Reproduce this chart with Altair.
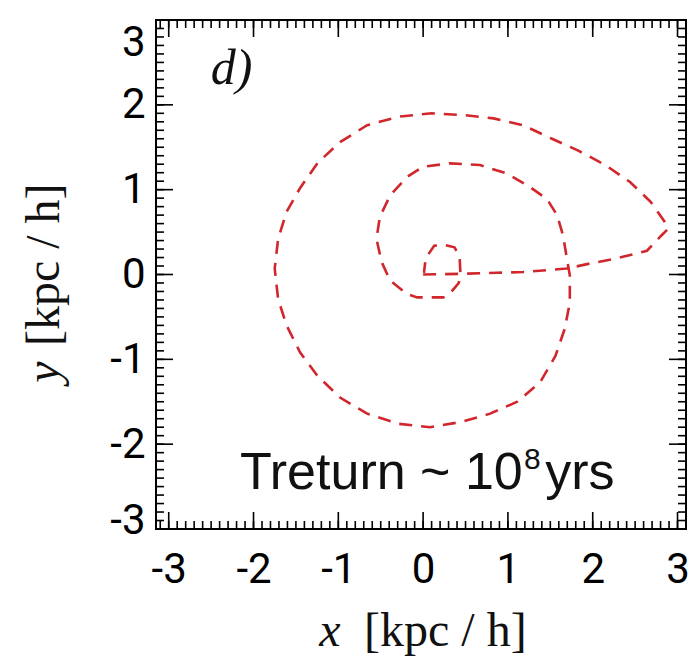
import altair as alt
import pandas as pd

# trajectory (kpc/h), in path order
traj_x = [0.00, 0.52, 0.87, 1.18, 1.46, 1.69, 1.97, 2.28, 2.64, 2.81, 2.89, 2.85, 2.68, 2.44,
          2.15, 1.83, 1.52, 1.18, 0.83, 0.47, 0.10, -0.29, -0.66, -0.98, -1.24, -1.45, -1.61,
          -1.71, -1.75, -1.71, -1.61, -1.45, -1.25, -0.98, -0.66, -0.29, 0.08, 0.44, 0.79,
          1.11, 1.38, 1.56, 1.67, 1.73, 1.73, 1.69, 1.65, 1.58, 1.46, 1.26, 0.99, 0.67, 0.32,
          0.00, -0.19, -0.39, -0.51, -0.55, -0.49, -0.39, -0.19, -0.07, 0.24, 0.32, 0.42,
          0.44, 0.43, 0.37, 0.25, 0.13, 0.03, 0.01]
traj_y = [0.00, 0.01, 0.02, 0.03, 0.05, 0.07, 0.13, 0.19, 0.28, 0.46, 0.54, 0.62, 0.86, 1.09,
          1.29, 1.46, 1.60, 1.76, 1.84, 1.88, 1.90, 1.86, 1.76, 1.56, 1.32, 1.02, 0.74,
          0.42, 0.07, -0.29, -0.60, -0.92, -1.19, -1.45, -1.64, -1.76, -1.80, -1.74, -1.64,
          -1.50, -1.27, -0.96, -0.64, -0.33, -0.01, 0.22, 0.46, 0.70, 0.89, 1.03, 1.19, 1.29, 1.31,
          1.27, 1.15, 0.93, 0.68, 0.42, 0.15, -0.07, -0.23, -0.27, -0.27, -0.22, -0.10,
          0.01, 0.21, 0.32, 0.35, 0.34, 0.19, 0.02]

x_major = [-3, -2, -1, 0, 1, 2, 3]
y_major = [-3, -2, -1, 0, 1, 2, 3]
x_minor = [round(-3.1 + 0.1 * i, 1) for i in range(63)]
y_minor = [round(-3.0 + 0.1 * i, 1) for i in range(61)]

W, H = 530, 509
XDOM = [-3.15, 3.1]
YDOM = [-3.0, 3.0]
MAJ, MIN = 17, 8
PX = W / (XDOM[1] - XDOM[0])   # pixels per unit along x
PY = H / (YDOM[1] - YDOM[0])   # pixels per unit along y

df = pd.DataFrame({"x": traj_x, "y": traj_y, "i": list(range(len(traj_x)))})

xs = alt.Scale(domain=XDOM, nice=False, zero=False)
ys = alt.Scale(domain=YDOM, nice=False, zero=False)

LABEL_FONT = "Roboto"
LFS = 42
hyphen = "datum.value < 0 ? '-' + abs(datum.value) : '' + datum.value"

curve = alt.Chart(df).mark_line(color="#d1262c", strokeWidth=2.6, strokeDash=[13, 9]).encode(
    x=alt.X("x:Q", scale=xs, axis=alt.Axis(orient="bottom", values=x_major, ticks=False,
            domain=False, grid=False, labelFont=LABEL_FONT, labelFontSize=LFS,
            labelColor="black", labelPadding=20, title=None,
            labelExpr=hyphen)),
    y=alt.Y("y:Q", scale=ys, axis=alt.Axis(orient="left", values=y_major, ticks=False,
            domain=False, grid=False, labelFont=LABEL_FONT, labelFontSize=LFS,
            labelColor="black", labelPadding=11, title=None,
            labelExpr=hyphen,
            labelOffset={"expr": "datum.value == 3 ? 22 : (datum.value == -3 ? -9 : 0)"})),
    order="i:O",
)

# inward ticks, placed through the scales (edge value and edge minus tick length)
def hticks(vals, edge, sign, length):
    return alt.Chart(pd.DataFrame({"xv": vals})).mark_rule(color="black", strokeWidth=1.6).encode(
        x=alt.X("xv:Q", scale=xs, axis=None),
        y=alt.datum(edge, scale=ys, axis=None),
        y2=alt.datum(edge + sign * length / PY))

def vticks(vals, edge, sign, length):
    return alt.Chart(pd.DataFrame({"yv": vals})).mark_rule(color="black", strokeWidth=1.6).encode(
        y=alt.Y("yv:Q", scale=ys, axis=None),
        x=alt.datum(edge, scale=xs, axis=None),
        x2=alt.datum(edge + sign * length / PX))

tick_layers = [
    hticks(x_minor, YDOM[1], -1, MIN), hticks(x_major, YDOM[1], -1, MAJ),
    hticks(x_minor, YDOM[0], 1, MIN), hticks(x_major, YDOM[0], 1, MAJ),
    vticks(y_minor, XDOM[0], 1, MIN), vticks(y_major, XDOM[0], 1, MAJ),
    vticks(y_minor, XDOM[1], -1, MIN), vticks(y_major, XDOM[1], -1, MAJ),
]

def note(text, x, y, size, font, style="normal", align="left"):
    return alt.Chart().mark_text(text=text, font=font, fontSize=size, fontStyle=style,
                                 align=align, baseline="alphabetic", color="#111111").encode(
        x=alt.datum(x, scale=xs, axis=None), y=alt.datum(y, scale=ys, axis=None))

panel = note("d)", -2.26, 2.24, 50, "Liberation Serif", "italic", "center")
t1 = note("Treturn ~ 10", -2.16, -2.53, 52, "Liberation Sans")
t2 = note("8", 1.19, -2.29, 30, "Liberation Sans")
t3 = note("yrs", 1.44, -2.53, 52, "Liberation Sans")

def lab(text, px, py, size, style="normal", align="left", angle=0):
    return alt.Chart().mark_text(text=text, font="Liberation Serif", fontSize=size,
                                 fontStyle=style, align=align, baseline="alphabetic",
                                 angle=angle, color="#111111").encode(
        x=alt.value(px), y=alt.value(py))

xt1 = lab("x", 174, 626, 48, "italic", "center")
xt2 = lab("[kpc / h]", 208, 626, 48)
yt1 = lab("y", -97, 352, 48, "italic", "center", 270)
yt2 = lab("[kpc / h]", -97, 326, 48, "normal", "left", 270)

chart = alt.layer(curve, *tick_layers, panel, t1, t2, t3,
                  xt1, xt2, yt1, yt2).resolve_axis(
    x="independent", y="independent"
).properties(
    width=W, height=H,
    padding={"left": 156, "top": 20, "right": 6, "bottom": 131},
    autosize=alt.AutoSizeParams(type="none"),
).configure_view(stroke="black", strokeWidth=2)

chart.save("out.html", embed_options={"renderer": "svg", "actions": False})
